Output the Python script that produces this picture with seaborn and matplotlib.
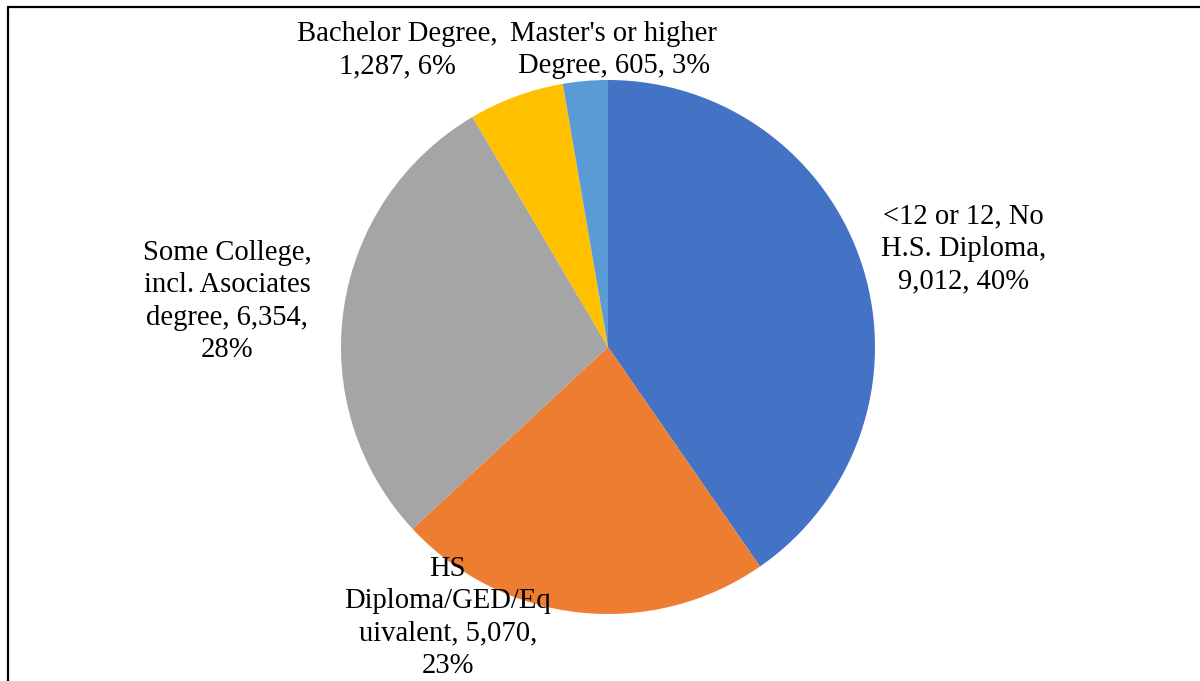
import matplotlib
matplotlib.use("Agg")
import matplotlib.pyplot as plt
from matplotlib.lines import Line2D
import seaborn as sns

# Educational attainment counts
categories = [
    "<12 or 12, No H.S. Diploma",
    "HS Diploma/GED/Equivalent",
    "Some College, incl. Asociates degree",
    "Bachelor Degree",
    "Master's or higher Degree",
]
counts = [9012, 5070, 6354, 1287, 605]
colors = ["#4472C4", "#ED7D31", "#A5A5A5", "#FFC000", "#5B9BD5"]

# Label layouts (line breaks as wrapped in the label boxes)
label_templates = [
    "<12 or 12, No\nH.S. Diploma,\n{v}, {p}",
    "HS\nDiploma/GED/Eq\nuivalent, {v},\n{p}",
    "Some College,\nincl. Asociates\ndegree, {v},\n{p}",
    "Bachelor Degree,\n{v}, {p}",
    "Master's or higher\nDegree, {v}, {p}",
]
# Label centres in units of the pie radius
label_xy = [(1.33, 0.367), (-0.60, -1.012), (-1.427, 0.17), (-0.79, 1.112), (0.022, 1.112)]

sns.set_theme(style="white")
plt.rcParams["font.family"] = ["Liberation Serif", "DejaVu Serif"]

W, H = 1200, 681
fig = plt.figure(figsize=(W / 100, H / 100), dpi=100)
fig.patch.set_facecolor("white")

cx, cy, r = 608, 347, 267
ax = fig.add_axes([(cx - r) / W, (H - cy - r) / H, 2 * r / W, 2 * r / H])

palette = sns.color_palette(colors)
ax.pie(counts, colors=palette, startangle=90, counterclock=False,
       radius=1.0, wedgeprops=dict(linewidth=0))
ax.set_xlim(-1, 1)
ax.set_ylim(-1, 1)
ax.set_aspect("equal")
ax.axis("off")

total = sum(counts)
for tmpl, val, (lx, ly) in zip(label_templates, counts, label_xy):
    pct = f"{round(100 * val / total)}%"
    ax.text(lx, ly, tmpl.format(v=f"{val:,}", p=pct), ha="center", va="center",
            fontsize=20.6, color="black", linespacing=1.32, clip_on=False)

# Chart frame (top and left edges)
fig.add_artist(Line2D([8 / W, 1], [1 - 7 / H, 1 - 7 / H], transform=fig.transFigure,
                      color="black", linewidth=1.6))
fig.add_artist(Line2D([8 / W, 8 / W], [0, 1 - 7 / H], transform=fig.transFigure,
                      color="black", linewidth=1.6))

fig.savefig("out.png", dpi=100, facecolor="white")
